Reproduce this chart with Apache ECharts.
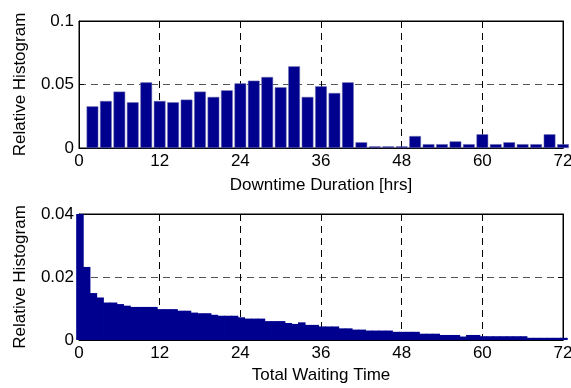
<!DOCTYPE html>
<html><head><meta charset="utf-8">
<script src="https://cdn.jsdelivr.net/npm/echarts/dist/echarts.min.js"></script>
<style>html,body{margin:0;padding:0;background:#fff}#c{width:571px;height:388px}</style>
</head><body><div id="c"></div>
<script>
// ---- data ----
const xTicks = [0, 12, 24, 36, 48, 60, 72];
const topYTicks = [0, 0.05, 0.1];
const bottomYTicks = [0, 0.02, 0.04];

const durationCenters = [2,4,6,8,10,12,14,16,18,20,22,24,26,28,30,32,34,36,38,40,42,44,46,48,50,52,54,56,58,60,62,64,66,68,70,72];
const durationValues = [0.0328,0.0370,0.0444,0.0360,0.0517,0.0370,0.0360,0.0381,0.0444,0.0402,0.0454,0.0509,0.0530,0.0559,0.0478,0.0643,0.0402,0.0486,0.0433,0.0517,0.0045,0.0013,0.0013,0.0013,0.0094,0.0030,0.0030,0.0052,0.0030,0.0108,0.0030,0.0045,0.0030,0.0030,0.0108,0.0030];

const waitBinStart = 0.14;
const waitBinWidth = 1;
const waitValues = [0.0410,0.0232,0.0149,0.0135,0.0119,0.0119,0.0114,0.0109,0.0105,0.0105,
  0.0105,0.0105,0.0098,0.0098,0.0098,0.0093,0.0093,0.0087,0.0085,0.0085,
  0.0080,0.0077,0.0077,0.0077,0.0072,0.0068,0.0068,0.0068,0.0060,0.0060,
  0.0060,0.0054,0.0051,0.0056,0.0048,0.0048,0.0043,0.0043,0.0043,0.0037,
  0.0037,0.0033,0.0033,0.0030,0.0030,0.0030,0.0030,0.0026,0.0026,0.0026,
  0.0026,0.0020,0.0020,0.0020,0.0016,0.0016,0.0016,0.0011,0.0016,0.0016,
  0.0012,0.0012,0.0012,0.0012,0.0012,0.0012,0.0012,0.0007,0.0007,0.0007,
  0.0007,0.0007,0.0007];

const topXName = 'Downtime Duration [hrs]';
const bottomXName = 'Total Waiting Time';
const yName = 'Relative Histogram';

// ---- build ----
const FONT = 'Liberation Sans, Arial, sans-serif';
const barColor = '#00008F';

const durationData = durationCenters.map((x, i) => [x, durationValues[i]]);
const waitData = waitValues.map((v, i) => [waitBinStart + i * waitBinWidth, v]);

function xAxes(gridIndex, name, nameGap) {
  const common = {
    type: 'value', gridIndex, min: xTicks[0], max: xTicks[xTicks.length - 1],
    interval: xTicks[1] - xTicks[0]
  };
  return [
    Object.assign({}, common, {
      position: 'bottom', name, nameLocation: 'middle', nameGap,
      nameTextStyle: { fontFamily: FONT, fontSize: 17, color: '#000' },
      axisLine: { show: true, onZero: false, lineStyle: { color: '#000', width: 1 } },
      axisTick: { show: true, inside: true, length: 5, lineStyle: { color: '#000' } },
      axisLabel: { show: true, margin: 5, fontFamily: FONT, fontSize: 17, color: '#000',
        showMinLabel: true, showMaxLabel: true, hideOverlap: false },
      splitLine: { show: true, lineStyle: { color: '#000', type: [7, 5], width: 1 } }
    }),
    Object.assign({}, common, {
      position: 'top',
      axisLine: { show: true, onZero: false, lineStyle: { color: '#000', width: 1 } },
      axisTick: { show: true, inside: true, length: 5, lineStyle: { color: '#000' } },
      axisLabel: { show: false },
      splitLine: { show: false }
    })
  ];
}

function yAxes(gridIndex, ticks) {
  const common = {
    type: 'value', gridIndex, min: ticks[0], max: ticks[ticks.length - 1],
    interval: ticks[1] - ticks[0]
  };
  return [
    Object.assign({}, common, {
      position: 'left', name: yName, nameLocation: 'middle', nameGap: 50, nameRotate: 90,
      nameTextStyle: { fontFamily: FONT, fontSize: 17, color: '#000' },
      axisLine: { show: true, onZero: false, lineStyle: { color: '#000', width: 1 } },
      axisTick: { show: true, inside: true, length: 5, lineStyle: { color: '#000' } },
      axisLabel: { show: true, margin: 5, fontFamily: FONT, fontSize: 17, color: '#000',
        showMinLabel: true, showMaxLabel: true, hideOverlap: false },
      splitLine: { show: true, lineStyle: { color: '#555', type: [7, 5], width: 1 } }
    }),
    Object.assign({}, common, {
      position: 'right',
      axisLine: { show: true, onZero: false, lineStyle: { color: '#000', width: 1 } },
      axisTick: { show: true, inside: true, length: 5, lineStyle: { color: '#000' } },
      axisLabel: { show: false },
      splitLine: { show: false }
    })
  ];
}

const chart = echarts.init(document.getElementById('c'), null, { renderer: 'canvas' });
chart.setOption({
  animation: false,
  backgroundColor: '#fff',
  grid: [
    { left: 79, right: 8, top: 21, height: 127, containLabel: false, outerBoundsMode: 'none',
      show: true, borderColor: '#000', borderWidth: 1, backgroundColor: '#fff' },
    { left: 79, right: 8, top: 214, height: 126, containLabel: false, outerBoundsMode: 'none',
      show: true, borderColor: '#000', borderWidth: 1, backgroundColor: '#fff' }
  ],
  xAxis: [].concat(xAxes(0, topXName, 29), xAxes(1, bottomXName, 27)),
  yAxis: [].concat(yAxes(0, topYTicks), yAxes(1, bottomYTicks)),
  series: [
    { type: 'bar', xAxisIndex: 0, yAxisIndex: 0, data: durationData, barWidth: '87%', clip: true,
      itemStyle: { color: barColor, borderColor: '#6f6fb0', borderWidth: 0.5 } },
    { type: 'bar', xAxisIndex: 2, yAxisIndex: 2, data: waitData, barWidth: '112%', clip: true,
      itemStyle: { color: barColor, borderWidth: 0 } }
  ]
});
</script>
</body></html>
